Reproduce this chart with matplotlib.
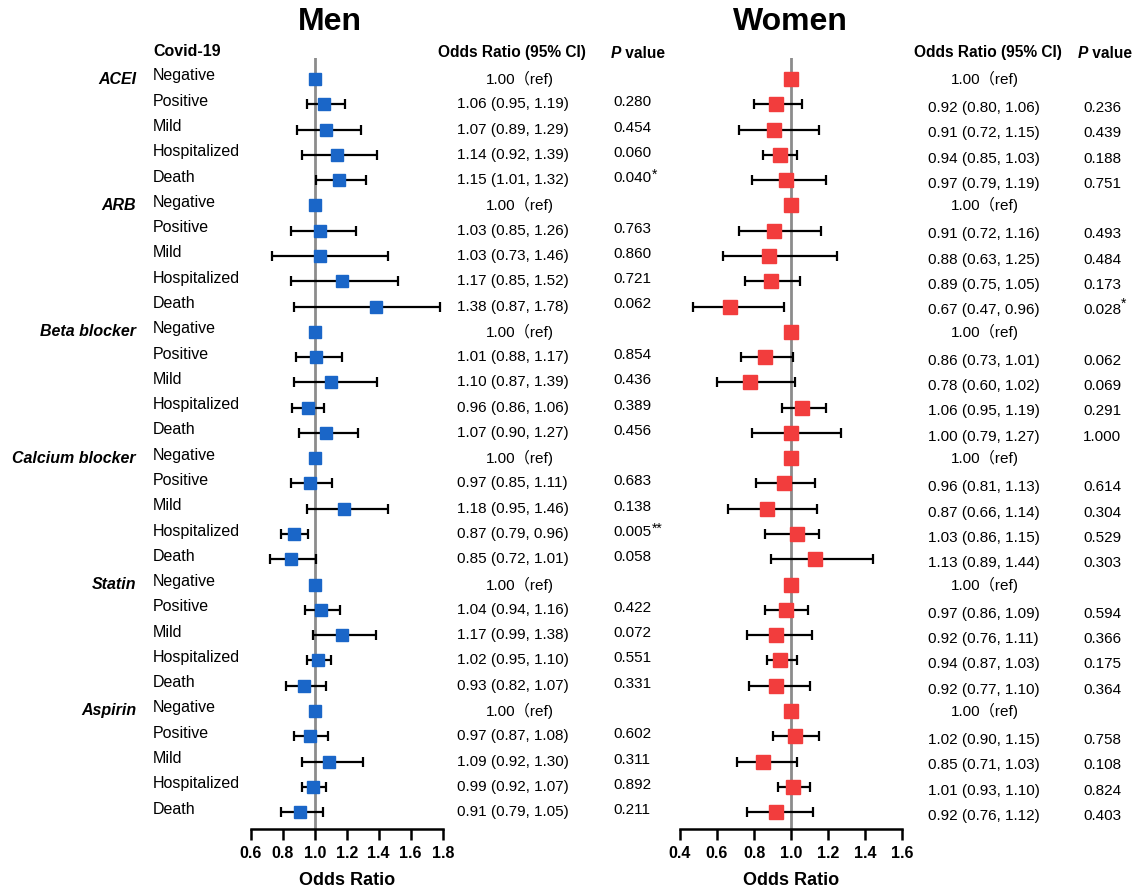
import numpy as np
import matplotlib.pyplot as plt
from matplotlib import transforms

plt.rcParams['font.family'] = ['Liberation Sans', 'Noto Sans CJK SC', 'DejaVu Sans']

drugs = ['ACEI', 'ARB', 'Beta blocker', 'Calcium blocker', 'Statin', 'Aspirin']
covid = ['Negative', 'Positive', 'Mild', 'Hospitalized', 'Death']

# per drug: Positive, Mild, Hospitalized, Death  (Negative is the 1.00 ref)
men_or = [1.06, 1.07, 1.14, 1.15,  1.03, 1.03, 1.17, 1.38,  1.01, 1.10, 0.96, 1.07,
          0.97, 1.18, 0.87, 0.85,  1.04, 1.17, 1.02, 0.93,  0.97, 1.09, 0.99, 0.91]
men_lo = [0.95, 0.89, 0.92, 1.01,  0.85, 0.73, 0.85, 0.87,  0.88, 0.87, 0.86, 0.90,
          0.85, 0.95, 0.79, 0.72,  0.94, 0.99, 0.95, 0.82,  0.87, 0.92, 0.92, 0.79]
men_hi = [1.19, 1.29, 1.39, 1.32,  1.26, 1.46, 1.52, 1.78,  1.17, 1.39, 1.06, 1.27,
          1.11, 1.46, 0.96, 1.01,  1.16, 1.38, 1.10, 1.07,  1.08, 1.30, 1.07, 1.05]
men_p = ['0.280', '0.454', '0.060', '0.040', '0.763', '0.860', '0.721', '0.062',
         '0.854', '0.436', '0.389', '0.456', '0.683', '0.138', '0.005', '0.058',
         '0.422', '0.072', '0.551', '0.331', '0.602', '0.311', '0.892', '0.211']
men_sig = ['', '', '', '*', '', '', '', '', '', '', '', '', '', '', '**', '',
           '', '', '', '', '', '', '', '']

women_or = [0.92, 0.91, 0.94, 0.97,  0.91, 0.88, 0.89, 0.67,  0.86, 0.78, 1.06, 1.00,
            0.96, 0.87, 1.03, 1.13,  0.97, 0.92, 0.94, 0.92,  1.02, 0.85, 1.01, 0.92]
women_lo = [0.80, 0.72, 0.85, 0.79,  0.72, 0.63, 0.75, 0.47,  0.73, 0.60, 0.95, 0.79,
            0.81, 0.66, 0.86, 0.89,  0.86, 0.76, 0.87, 0.77,  0.90, 0.71, 0.93, 0.76]
women_hi = [1.06, 1.15, 1.03, 1.19,  1.16, 1.25, 1.05, 0.96,  1.01, 1.02, 1.19, 1.27,
            1.13, 1.14, 1.15, 1.44,  1.09, 1.11, 1.03, 1.10,  1.15, 1.03, 1.10, 1.12]
women_p = ['0.236', '0.439', '0.188', '0.751', '0.493', '0.484', '0.173', '0.028',
           '0.062', '0.069', '0.291', '1.000', '0.614', '0.304', '0.529', '0.303',
           '0.594', '0.366', '0.175', '0.364', '0.758', '0.108', '0.824', '0.403']
women_sig = ['', '', '', '', '', '', '', '*', '', '', '', '', '', '', '', '',
             '', '', '', '', '', '', '', '']

men_ticks = [0.6, 0.8, 1.0, 1.2, 1.4, 1.6, 1.8]
women_ticks = [0.4, 0.6, 0.8, 1.0, 1.2, 1.4, 1.6]

# layout in pixels of the 1140x889 picture
W, H = 1140, 889
ROW0 = 79.0      # y of first row
ROWH = 25.28     # row spacing
AX_TOP = 58.0
AX_BOT = 829.0
FS = 11
HFS = 11.2       # column headers

def row_of(y):
    return (y - ROW0) / ROWH

fig = plt.figure(figsize=(11.4, 8.89), dpi=100)
ax_m = fig.add_axes([250.7 / W, 1 - AX_BOT / H, 192.0 / W, (AX_BOT - AX_TOP) / H])
ax_w = fig.add_axes([680.0 / W, 1 - AX_BOT / H, 222.3 / W, (AX_BOT - AX_TOP) / H])

nonref_rows = [d * 5 + j + 1 for d in range(len(drugs)) for j in range(4)]
ref_rows = [d * 5 for d in range(len(drugs))]

def forest(ax, orv, lo, hi, ticks, color, ms):
    orv = np.array(orv); lo = np.array(lo); hi = np.array(hi)
    ax.axvline(1.0, color='#8c8c8c', lw=2, zorder=0)
    ax.errorbar(orv, nonref_rows, xerr=[orv - lo, hi - orv], fmt='none',
                ecolor='black', elinewidth=1.6, capsize=3.8, capthick=1.6, zorder=2)
    ax.plot(orv, nonref_rows, 's', color=color, ms=ms, zorder=3)
    ax.plot([1.0] * len(ref_rows), ref_rows, 's', color=color, ms=ms, zorder=3)
    ax.set_xlim(ticks[0], ticks[-1])
    ax.set_ylim(row_of(AX_BOT), row_of(AX_TOP))
    ax.set_xticks(ticks)
    ax.set_xticklabels(['%.1f' % t for t in ticks], fontweight='bold', fontsize=11.5)
    ax.set_yticks([])
    for s in ['top', 'right', 'left']:
        ax.spines[s].set_visible(False)
    ax.spines['bottom'].set_linewidth(1.8)
    ax.tick_params(axis='x', direction='out', length=8, width=1.8, pad=4)
    ax.set_xlabel('Odds Ratio', fontweight='bold', fontsize=13, labelpad=8)
    ax.patch.set_alpha(0)

forest(ax_m, men_or, men_lo, men_hi, men_ticks, '#1a66c8', 8)
forest(ax_w, women_or, women_lo, women_hi, women_ticks, '#f23d3d', 9.5)

tm = transforms.blended_transform_factory(fig.transFigure, ax_m.transData)

def tx(x, y, s, **kw):
    kw.setdefault('fontsize', FS)
    kw.setdefault('va', 'center')
    fig.text(x / W, y, s, transform=tm, **kw)

# titles and headers
tx(330, row_of(22), 'Men', ha='center', fontsize=23, fontweight='bold')
tx(790, row_of(22), 'Women', ha='center', fontsize=23, fontweight='bold')
tx(153, row_of(51), 'Covid-19', ha='left', fontweight='bold', fontsize=11.5)
hy = row_of(53)
tx(512, hy, 'Odds Ratio (95% CI)', ha='center', fontweight='bold', fontsize=HFS)
tx(621, hy, 'P', ha='right', fontweight='bold', style='italic', fontsize=HFS)
tx(621, hy, ' value', ha='left', fontweight='bold', fontsize=HFS)
tx(988, hy, 'Odds Ratio (95% CI)', ha='center', fontweight='bold', fontsize=HFS)
tx(1088, hy, 'P', ha='right', fontweight='bold', style='italic', fontsize=HFS)
tx(1088, hy, ' value', ha='left', fontweight='bold', fontsize=HFS)

# row labels
for d, drug in enumerate(drugs):
    tx(136, d * 5, drug, ha='right', fontweight='bold', style='italic', fontsize=11.5)
    for j, c in enumerate(covid):
        tx(153, d * 5 + j - 0.12, c, ha='left', fontsize=11.5)
    tx(520, d * 5, '1.00\uff08ref)', ha='center')
    tx(985, d * 5, '1.00\uff08ref)', ha='center')

# value columns
for k, r in enumerate(nonref_rows):
    tx(512.5, r, '%.2f (%.2f, %.2f)' % (men_or[k], men_lo[k], men_hi[k]), ha='center')
    tx(632, r - 0.08, men_p[k], ha='center')
    if men_sig[k]:
        tx(652, r - 0.22, men_sig[k], ha='left', fontsize=10)
    rw = r + 0.15
    tx(983.5, rw, '%.2f (%.2f, %.2f)' % (women_or[k], women_lo[k], women_hi[k]), ha='center')
    tx(1102, rw, women_p[k], ha='center')
    if women_sig[k]:
        tx(1121, rw - 0.25, women_sig[k], ha='left', fontsize=10)

plt.savefig('out.png', dpi=100)
